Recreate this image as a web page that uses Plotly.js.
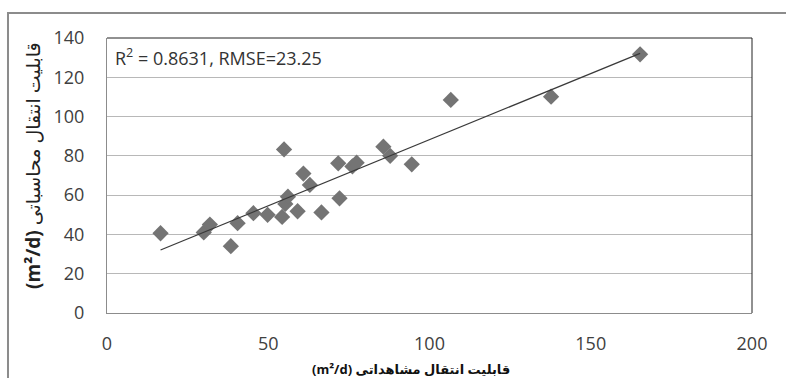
<!DOCTYPE html>
<html>
<head>
<meta charset="utf-8">
<script src="https://cdn.plot.ly/plotly-3.0.1.min.js"></script>
<style>html,body{margin:0;padding:0;background:#fff;}#chart{width:786px;height:378px;}</style>
</head>
<body>
<div id="chart"></div>
<script>
// Observed transmissivity (m2/d)
var observed = [16.6, 30.0, 31.9, 38.4, 40.5, 45.4, 49.8, 54.3, 54.9, 55.3, 56.1, 59.1, 60.9, 62.9, 66.5, 71.7, 72.1, 76.1, 77.4, 85.7, 87.8, 94.5, 106.6, 137.7, 165.3];
// Calculated transmissivity (m2/d)
var calculated = [40.6, 41.0, 45.0, 34.0, 45.7, 50.8, 50.0, 48.9, 83.3, 55.5, 59.2, 51.8, 71.0, 65.2, 51.2, 76.2, 58.4, 74.6, 76.5, 84.7, 80.0, 75.7, 108.5, 110.1, 131.7];
// Linear trend line end points
var trendX = [16.6, 165.3];
var trendY = [32.1, 132.2];
var xTicks = [0, 50, 100, 150, 200];
var yTicks = [0, 20, 40, 60, 80, 100, 120, 140];
var statsLabel = 'R<sup>2</sup> = 0.8631, RMSE=23.25';
var xTitle = '<b>(m²/d) قابلیت انتقال مشاهداتی</b>';
var yTitle = '<b>(m²/d)</b> قابلیت انتقال محاسباتی';

var font = 'Open Sans, DejaVu Sans, sans-serif';
var traces = [
  {x: observed, y: calculated, type: 'scatter', mode: 'markers',
   marker: {symbol: 'diamond', size: 12.5, color: '#747474'}, hoverinfo: 'x+y'},
  {x: trendX, y: trendY, type: 'scatter', mode: 'lines',
   line: {color: '#3a3a3a', width: 1.2}, hoverinfo: 'skip'}
];
var layout = {
  width: 786, height: 378,
  margin: {l: 107, r: 34, t: 38, b: 65},
  paper_bgcolor: '#fff', plot_bgcolor: '#fff',
  showlegend: false,
  font: {family: font, size: 18, color: '#404040'},
  xaxis: {range: [0, 200], tickvals: xTicks, ticktext: xTicks.map(String),
          showgrid: false, zeroline: false, showline: true, linecolor: '#8c8c8c', linewidth: 1,
          ticks: 'outside', ticklen: 14, tickcolor: 'rgba(0,0,0,0)',
          tickfont: {family: font, size: 18, color: '#404040'}},
  yaxis: {range: [0, 140], tickvals: yTicks, ticktext: yTicks.map(String),
          showgrid: true, gridcolor: '#b8b8b8', gridwidth: 1, zeroline: false,
          showline: true, linecolor: '#8c8c8c', linewidth: 1,
          ticks: 'outside', ticklen: 18, tickcolor: 'rgba(0,0,0,0)',
          tickfont: {family: font, size: 18, color: '#404040'}},
  shapes: [
    {type: 'rect', xref: 'paper', yref: 'paper', x0: -0.1535, x1: 1.3, y0: -0.6, y1: 1.0909,
     line: {color: '#8c8c8c', width: 2}, fillcolor: 'rgba(0,0,0,0)'},
    {type: 'line', xref: 'paper', yref: 'paper', x0: 0, x1: 1, y0: 1, y1: 1,
     line: {color: '#222', width: 1}},
    {type: 'line', xref: 'paper', yref: 'paper', x0: 1, x1: 1, y0: 0, y1: 1,
     line: {color: '#222', width: 1}}
  ],
  annotations: [
    {text: statsLabel, xref: 'paper', yref: 'paper', x: 0.0093, y: 0.931,
     xanchor: 'left', yanchor: 'middle', showarrow: false,
     font: {family: font, size: 18, color: '#333'}},
    {text: xTitle, xref: 'paper', yref: 'paper', x: 0.4713, y: -0.2036,
     xanchor: 'center', yanchor: 'middle', showarrow: false,
     font: {family: font, size: 13, color: '#111'}},
    {text: yTitle, xref: 'paper', yref: 'paper', x: -0.1147, y: 0.535, textangle: -90,
     xanchor: 'center', yanchor: 'middle', showarrow: false,
     font: {family: font, size: 19, color: '#222'}}
  ]
};
Plotly.newPlot('chart', traces, layout, {displayModeBar: false, staticPlot: true});
</script>
</body>
</html>
